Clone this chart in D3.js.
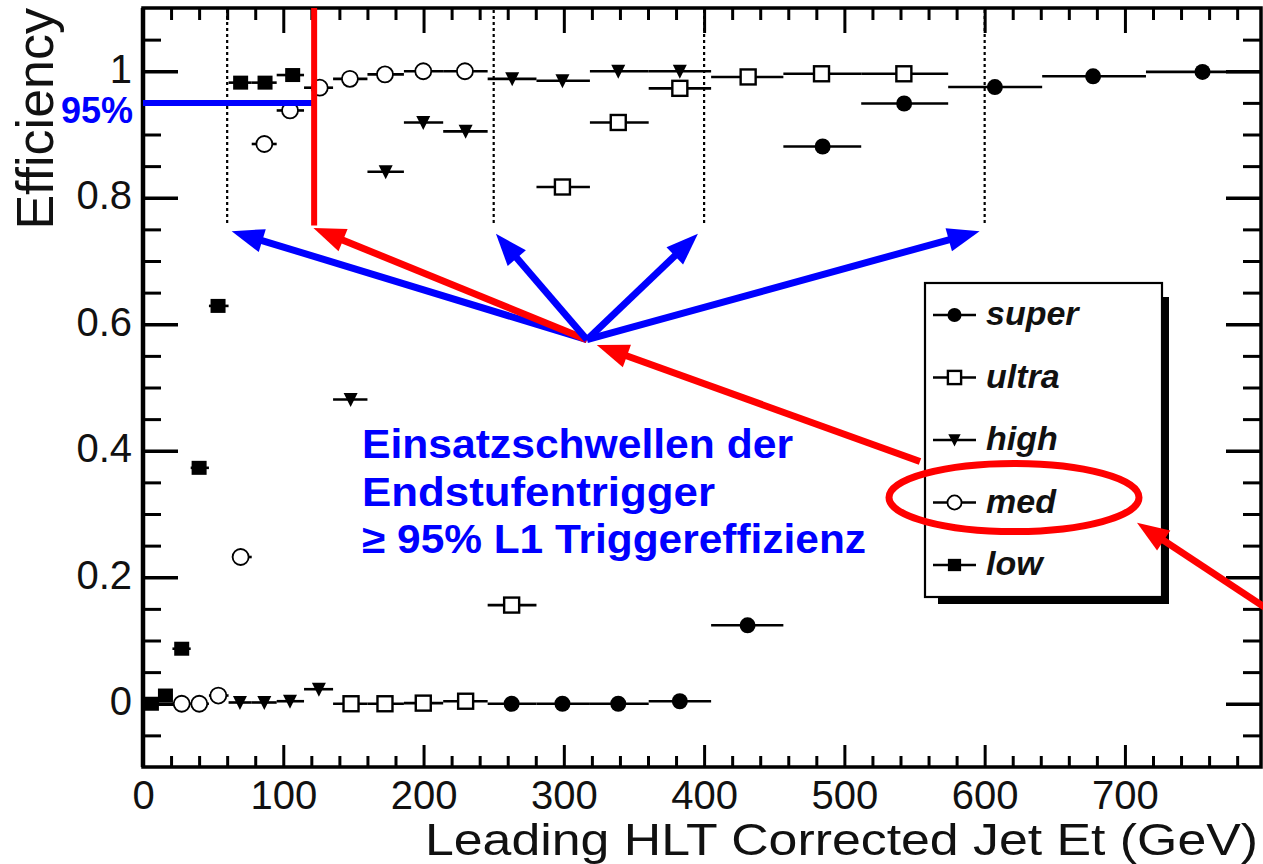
<!DOCTYPE html>
<html><head><meta charset="utf-8">
<script src="https://cdn.jsdelivr.net/npm/d3@7"></script>
<style>
body{margin:0;background:#fff}
svg{display:block}
text{font-family:"Liberation Sans", Arial, Helvetica, sans-serif}
</style>
</head><body>
<svg id="chart" width="1263" height="864"></svg>
<script>
// ---------------- data ----------------
const seriesNames = ["super", "ultra", "high", "med", "low"];

const superX  = [262.8, 299, 338.8, 382.7, 431, 484.5, 542.6, 607.3, 677.3, 755.3];
const superY  = [0, 0, 0, 0.004, 0.124, 0.881, 0.949, 0.975, 0.992, 0.999];
const superLo = [245.7, 280.5, 318.6, 360.5, 405, 456.5, 512, 574, 641, 715];
const superHi = [280.5, 318.6, 360.5, 405, 456.5, 512, 574, 641, 715, 800];

const ultraX  = [148.3, 172.5, 199.8, 230, 262.8, 299, 338.8, 382.7, 431.4, 483.7, 542.4];
const ultraY  = [0, 0, 0.001, 0.004, 0.156, 0.817, 0.919, 0.973, 0.991, 0.996, 0.996];
const ultraLo = [135.5, 160, 186, 214, 245.7, 280.5, 318.6, 360.5, 405, 456.5, 512];
const ultraHi = [160, 186, 214, 245.7, 280.5, 318.6, 360.5, 405, 456.5, 512, 574];

const highX  = [69.1, 86.5, 104.8, 125.4, 148, 173, 199.8, 230, 263.2, 299, 338.8, 382.7];
const highY  = [0.002, 0.002, 0.004, 0.023, 0.481, 0.841, 0.919, 0.905, 0.988, 0.985, 1.0, 1.0];
const highLo = [61, 77.5, 95.3, 114.8, 135.5, 160, 186, 214, 245.7, 280.5, 318.6, 360.5];
const highHi = [77.5, 95.3, 114.8, 135.5, 160, 186, 214, 245.7, 280.5, 318.6, 360.5, 405];

const medX  = [27.6, 40.1, 53.7, 69.6, 86.5, 104.8, 126, 147.5, 172.5, 199.8, 229.5];
const medY  = [0, 0, 0.013, 0.232, 0.885, 0.938, 0.974, 0.988, 0.995, 1.0, 1.0];
const medLo = [21, 34, 47, 63.4, 77.5, 95.3, 114.8, 135.5, 160, 186, 214];
const medHi = [34, 47, 61, 77.5, 95.3, 114.8, 135.5, 160, 186, 214, 245.7];

const lowX  = [6, 16, 27.6, 40, 53.5, 69.6, 87, 106.7];
const lowY  = [0.0, 0.013, 0.087, 0.373, 0.629, 0.982, 0.982, 0.994];
const lowLo = [2, 11, 21, 34, 47, 61, 77.5, 95.3];
const lowHi = [10, 21, 34, 47, 61, 77.5, 95.3, 114.8];

const xMajorTicks = [0, 100, 200, 300, 400, 500, 600, 700];
const yMajorTicks = [0, 0.2, 0.4, 0.6, 0.8, 1];
const yTickLabels = ["0", "0.2", "0.4", "0.6", "0.8", "1"];

const thresholds = [60, 250, 400, 600];   // dotted lines (GeV)
const redThreshold = 122;                  // red line (GeV)
const effLevel = 0.95;
const annotLines = ["Einsatzschwellen der", "Endstufentrigger", "\u2265 95% L1 Triggereffizienz"];

// ---------------- setup ----------------
const svg = d3.select("#chart");
const W = 1263, H = 864;
const x = d3.scaleLinear().domain([0, 797]).range([143, 1261]);
const y = d3.scaleLinear().domain([-0.1, 1.1]).range([767, 8]);
const BLUE = "#0000ff", RED = "#ff0000";

svg.append("rect").attr("width", W).attr("height", H).attr("fill", "#fff");

svg.append("clipPath").attr("id", "plotclip").append("rect")
  .attr("x", 143).attr("y", 8).attr("width", 1118).attr("height", 759);

// ---------------- axes ----------------
function styleAxis(g, sw) {
  g.select(".domain").remove();
  g.selectAll(".tick line").attr("stroke", "#000").attr("stroke-width", sw);
}
const minorX = d3.range(0, 797, 20).filter(v => v % 100 !== 0);
const minorY = d3.range(-0.05, 1.1, 0.05).map(v => +v.toFixed(2)).filter(v => Math.abs(v*5 - Math.round(v*5)) > 1e-6);

// bottom
svg.append("g").attr("transform", "translate(0,767)")
  .call(d3.axisBottom(x).tickValues(xMajorTicks).tickSizeInner(-22).tickSizeOuter(0).tickPadding(14).tickFormat(d3.format("d")))
  .call(g => { styleAxis(g, 3); g.selectAll("text").attr("font-size", 40).attr("fill", "#111").attr("font-family", "Liberation Sans, Arial, sans-serif"); });
svg.append("g").attr("transform", "translate(0,767)")
  .call(d3.axisBottom(x).tickValues(minorX).tickSizeInner(-11).tickSizeOuter(0).tickFormat(""))
  .call(g => styleAxis(g, 3));
// top
svg.append("g").attr("transform", "translate(0,8)")
  .call(d3.axisTop(x).tickValues(xMajorTicks).tickSizeInner(-25).tickSizeOuter(0).tickFormat(""))
  .call(g => styleAxis(g, 3));
svg.append("g").attr("transform", "translate(0,8)")
  .call(d3.axisTop(x).tickValues(minorX).tickSizeInner(-12).tickSizeOuter(0).tickFormat(""))
  .call(g => styleAxis(g, 3));
// left
svg.append("g").attr("transform", "translate(143,0)")
  .call(d3.axisLeft(y).tickValues(yMajorTicks).tickSizeInner(-35).tickSizeOuter(0).tickPadding(11)
        .tickFormat((d, i) => yTickLabels[i]))
  .call(g => { styleAxis(g, 3.5); g.selectAll("text").attr("font-size", 40).attr("fill", "#111").attr("dy", "0.28em").attr("font-family", "Liberation Sans, Arial, sans-serif"); });
svg.append("g").attr("transform", "translate(143,0)")
  .call(d3.axisLeft(y).tickValues(minorY).tickSizeInner(-18).tickSizeOuter(0).tickFormat(""))
  .call(g => styleAxis(g, 3));
// right
svg.append("g").attr("transform", "translate(1261,0)")
  .call(d3.axisRight(y).tickValues(yMajorTicks).tickSizeInner(-35).tickSizeOuter(0).tickFormat(""))
  .call(g => styleAxis(g, 3.5));
svg.append("g").attr("transform", "translate(1261,0)")
  .call(d3.axisRight(y).tickValues(minorY).tickSizeInner(-18).tickSizeOuter(0).tickFormat(""))
  .call(g => styleAxis(g, 3));

// frame
svg.append("rect").attr("x", x(0)).attr("y", y(1.1)).attr("width", x(797) - x(0)).attr("height", y(-0.1) - y(1.1))
  .attr("fill", "none").attr("stroke", "#000").attr("stroke-width", 3.5);
svg.append("line").attr("x1", x(0)).attr("x2", x(0)).attr("y1", y(1.1)).attr("y2", y(-0.1))
  .attr("stroke", "#000").attr("stroke-width", 4.5);

// axis titles
svg.append("text").attr("x", 1258).attr("y", 855).attr("text-anchor", "end")
  .attr("font-size", 45).attr("fill", "#111")
  .attr("textLength", 833).attr("lengthAdjust", "spacingAndGlyphs")
  .text("Leading HLT Corrected Jet Et (GeV)");
svg.append("text").attr("transform", "translate(53,8) rotate(-90)").attr("text-anchor", "end")
  .attr("font-size", 52).attr("fill", "#111").text("Efficiency");

// ---------------- threshold annotations (under data) ----------------
const ann = svg.append("g");
thresholds.forEach(t => {
  ann.append("line").attr("x1", x(t)).attr("x2", x(t)).attr("y1", y(1.1) + 2).attr("y2", y(0.756))
    .attr("stroke", "#000").attr("stroke-width", 2.2).attr("stroke-dasharray", "3,3");
});

// ---------------- data ----------------
const series = [
  {name: "low",   X: lowX,   Y: lowY,   Lo: lowLo,   Hi: lowHi,   sym: "sqFill"},
  {name: "med",   X: medX,   Y: medY,   Lo: medLo,   Hi: medHi,   sym: "circOpen"},
  {name: "high",  X: highX,  Y: highY,  Lo: highLo,  Hi: highHi,  sym: "triDown"},
  {name: "ultra", X: ultraX, Y: ultraY, Lo: ultraLo, Hi: ultraHi, sym: "sqOpen"},
  {name: "super", X: superX, Y: superY, Lo: superLo, Hi: superHi, sym: "circFill"}
];

function drawMarker(g, sym, cx, cy, scale) {
  const s = scale || 1;
  if (sym === "sqFill") {
    g.append("rect").attr("x", cx - 7.5*s).attr("y", cy - 7*s).attr("width", 15*s).attr("height", 14*s).attr("fill", "#000");
  } else if (sym === "sqOpen") {
    g.append("rect").attr("x", cx - 7.5*s).attr("y", cy - 7.5*s).attr("width", 15*s).attr("height", 15*s)
      .attr("fill", "#fff").attr("stroke", "#000").attr("stroke-width", 2.4);
  } else if (sym === "circOpen") {
    g.append("circle").attr("cx", cx).attr("cy", cy).attr("r", 8*s).attr("fill", "#fff").attr("stroke", "#000").attr("stroke-width", 1.8);
  } else if (sym === "circFill") {
    g.append("circle").attr("cx", cx).attr("cy", cy).attr("r", 8*s).attr("fill", "#000");
  } else if (sym === "triDown") {
    g.append("path").attr("d", `M${cx - 7*s},${cy - 6.5*s} L${cx + 7*s},${cy - 6.5*s} L${cx},${cy + 7.5*s} Z`).attr("fill", "#000");
  }
}

const dataG = svg.append("g").attr("clip-path", "url(#plotclip)");
series.forEach(s => {
  const g = dataG.append("g");
  s.X.forEach((xv, i) => {
    g.append("line").attr("x1", x(s.Lo[i])).attr("x2", x(s.Hi[i])).attr("y1", y(s.Y[i])).attr("y2", y(s.Y[i]))
      .attr("stroke", "#000").attr("stroke-width", 2.6);
  });
  s.X.forEach((xv, i) => drawMarker(g, s.sym, x(xv), y(s.Y[i])));
});

// ---------------- red / blue threshold lines ----------------
svg.append("line").attr("x1", x(0)).attr("x2", x(redThreshold)).attr("y1", y(effLevel)).attr("y2", y(effLevel))
  .attr("stroke", BLUE).attr("stroke-width", 6);
svg.append("line").attr("x1", x(redThreshold)).attr("x2", x(redThreshold)).attr("y1", y(1.1)).attr("y2", y(0.756))
  .attr("stroke", RED).attr("stroke-width", 6);
svg.append("text").attr("x", 133).attr("y", 123).attr("text-anchor", "end")
  .attr("font-size", 36).attr("font-weight", "bold").attr("fill", BLUE).text("95%");

// ---------------- legend ----------------
const legX = 925, legY = 283, legW = 237, legH = 314;
svg.append("rect").attr("x", legX + 13).attr("y", legY + 14).attr("width", legW - 6).attr("height", legH - 7).attr("fill", "#000");
svg.append("rect").attr("x", legX).attr("y", legY).attr("width", legW).attr("height", legH)
  .attr("fill", "#fff").attr("stroke", "#000").attr("stroke-width", 2.2);
const legSyms = {super: "circFill", ultra: "sqOpen", high: "triDown", med: "circOpen", low: "sqFill"};
seriesNames.forEach((n, i) => {
  const ly = 315 + i * 62.5;
  const g = svg.append("g");
  g.append("line").attr("x1", 933).attr("x2", 976).attr("y1", ly).attr("y2", ly).attr("stroke", "#000").attr("stroke-width", 2.4);
  drawMarker(g, legSyms[n], 954.5, ly, 0.88);
  g.append("text").attr("x", 986).attr("y", ly + 10).attr("font-size", 34).attr("font-weight", "bold")
    .attr("font-style", "italic").attr("fill", "#111").text(n);
});

// ---------------- arrows ----------------
function arrow(x1, y1, x2, y2, color) {
  const headLen = 32, headHalf = 12, sw = 7;
  const dx = x2 - x1, dy = y2 - y1, L = Math.hypot(dx, dy);
  const ux = dx / L, uy = dy / L;
  const bx = x2 - ux * headLen, by = y2 - uy * headLen;
  svg.append("line").attr("x1", x1).attr("y1", y1).attr("x2", bx + ux*2).attr("y2", by + uy*2)
    .attr("stroke", color).attr("stroke-width", sw);
  svg.append("path").attr("d",
    `M${x2},${y2} L${bx - uy*headHalf},${by + ux*headHalf} L${bx + uy*headHalf},${by - ux*headHalf} Z`)
    .attr("fill", color);
}
const ox = x(316.5), oy = y(0.5755);
arrow(ox, oy, x(63.2), y(0.747), BLUE);
arrow(ox, oy, x(redThreshold - 0.5), y(0.752), RED);
arrow(ox, oy, x(251.6), y(0.743), BLUE);
arrow(ox, oy, x(395.6), y(0.743), BLUE);
arrow(ox, oy, x(596.4), y(0.747), BLUE);
arrow(x(553.9), y(0.383), x(323.5), y(0.567), RED);
arrow(x(800), y(0.152), x(708.6), y(0.286), RED);

// ellipse around "med"
svg.append("ellipse").attr("cx", 1014).attr("cy", 497.5).attr("rx", 125).attr("ry", 34)
  .attr("fill", "none").attr("stroke", RED).attr("stroke-width", 7);

// ---------------- annotation text ----------------
const annLens = [431, 353, 504];
annotLines.forEach((t, i) => {
  svg.append("text").attr("x", 362).attr("y", 458 + i * 47.5)
    .attr("font-size", 40).attr("font-weight", "bold").attr("fill", BLUE)
    .attr("textLength", annLens[i]).attr("lengthAdjust", "spacingAndGlyphs")
    .text(t);
});
</script>
</body></html>
